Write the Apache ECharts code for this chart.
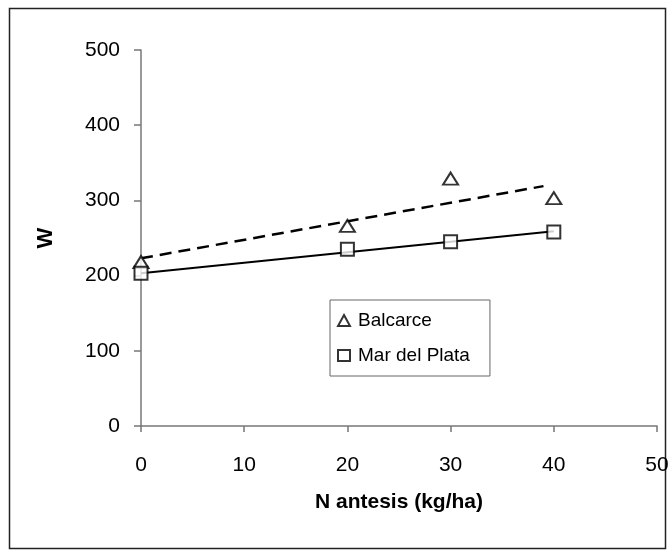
<!DOCTYPE html>
<html>
<head>
<meta charset="utf-8">
<script src="https://cdn.jsdelivr.net/npm/echarts@6/dist/echarts.min.js"></script>
<style>
  html, body { margin: 0; padding: 0; background: #fff; }
  #chart { width: 672px; height: 552px; }
</style>
</head>
<body>
<div id="chart"></div>
<script>
// N at anthesis (kg/ha)
const nDoses = [0, 20, 30, 40]
const balcarce = [218, 266, 329, 303]
const marDelPlata = [203, 235, 245, 258]

// trend lines: [x, W]
const balcarceTrend = [[0, 223], [39, 319]]
const marDelPlataTrend = [[0, 203], [40, 259]]

const xTicks = [0, 10, 20, 30, 40, 50]
const yTicks = [0, 100, 200, 300, 400, 500]

const fontFamily = '"Liberation Sans", Arial, sans-serif'
const axisGray = '#777'

const chart = echarts.init(document.getElementById('chart'))

const toPairs = (xs, ys) => xs.map((x, i) => [x, ys[i]])

chart.setOption({
  backgroundColor: '#fff',
  animation: false,
  textStyle: { fontFamily },
  grid: { left: 141, right: 15, top: 50, bottom: 126 },
  legend: {
    data: ['Balcarce', 'Mar del Plata'],
    orient: 'vertical',
    left: 330,
    top: 300,
    padding: [11, 20, 11, 7],
    itemGap: 16,
    itemWidth: 12,
    itemHeight: 11,
    borderColor: '#666',
    borderWidth: 1,
    backgroundColor: '#fff',
    textStyle: { fontSize: 19, color: '#000', fontFamily, padding: [0, 0, 0, 3] }
  },
  xAxis: {
    type: 'value',
    min: xTicks[0],
    max: xTicks[xTicks.length - 1],
    interval: 10,
    name: 'N antesis (kg/ha)',
    nameLocation: 'middle',
    nameGap: 66,
    nameTextStyle: { fontSize: 21, fontWeight: 'bold', color: '#000', fontFamily },
    axisLine: { onZero: false, lineStyle: { color: axisGray, width: 1.5 } },
    axisTick: { inside: false, length: 6, lineStyle: { color: axisGray, width: 1.5 } },
    axisLabel: { fontSize: 21, color: '#000', margin: 29, fontFamily },
    splitLine: { show: false }
  },
  yAxis: {
    type: 'value',
    min: yTicks[0],
    max: yTicks[yTicks.length - 1],
    interval: 100,
    name: 'W',
    nameLocation: 'middle',
    nameGap: 84,
    nameRotate: 90,
    nameTextStyle: { fontSize: 22, fontWeight: 'bold', color: '#000', fontFamily },
    axisLine: { show: true, onZero: false, lineStyle: { color: axisGray, width: 1.5 } },
    axisTick: { show: true, inside: false, length: 7, lineStyle: { color: axisGray, width: 1.5 } },
    axisLabel: { fontSize: 21, color: '#000', margin: 21, fontFamily },
    splitLine: { show: false }
  },
  series: [
    {
      name: 'Balcarce trend',
      type: 'line',
      data: balcarceTrend,
      showSymbol: false,
      symbol: 'none',
      lineStyle: { color: '#000', width: 2.5, type: [12, 7] },
      z: 2
    },
    {
      name: 'Mar del Plata trend',
      type: 'line',
      data: marDelPlataTrend,
      showSymbol: false,
      symbol: 'none',
      lineStyle: { color: '#000', width: 2 },
      z: 2
    },
    {
      name: 'Balcarce',
      type: 'scatter',
      data: toPairs(nDoses, balcarce),
      symbol: 'triangle',
      symbolSize: [15, 12],
      itemStyle: { color: '#fff', borderColor: '#000', borderWidth: 2 },
      z: 3
    },
    {
      name: 'Mar del Plata',
      type: 'scatter',
      data: toPairs(nDoses, marDelPlata),
      symbol: 'rect',
      symbolSize: 13,
      itemStyle: { color: '#fff', borderColor: '#000', borderWidth: 2 },
      z: 3
    }
  ],
  graphic: [
    {
      type: 'rect',
      left: 7,
      top: 6,
      shape: { width: 656, height: 540 },
      style: { fill: 'none', stroke: '#222', lineWidth: 1.5 },
      silent: true
    }
  ]
})
</script>
</body>
</html>
